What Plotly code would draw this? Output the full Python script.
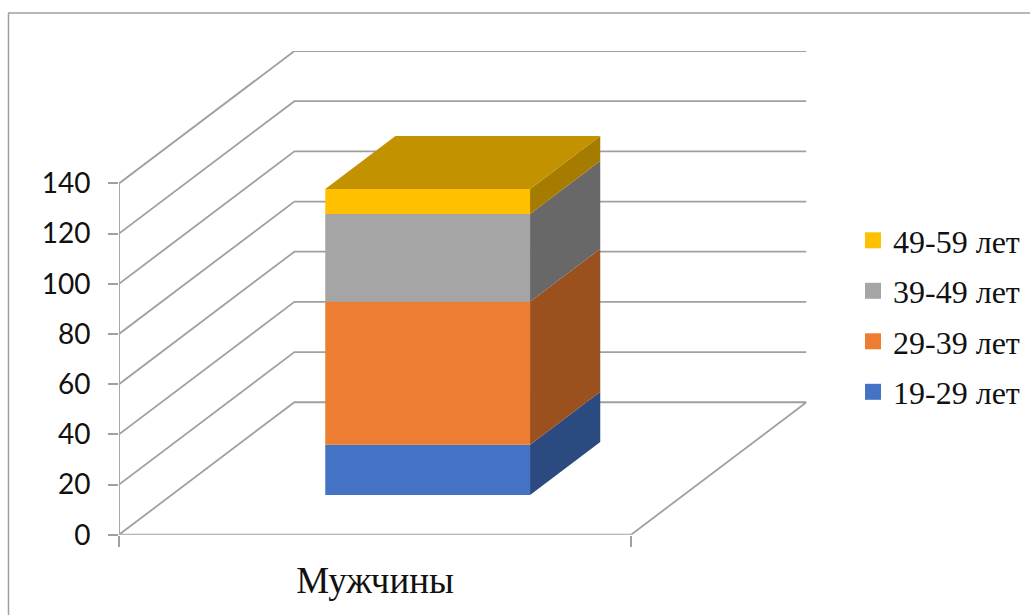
import plotly.graph_objects as go

# Chart data
category = "Мужчины"
series_names = ["19-29 лет", "29-39 лет", "39-49 лет", "49-59 лет"]
series_values = [20, 57, 35, 10]
y_ticks = [0, 20, 40, 60, 80, 100, 120, 140]

# Series colours: front face, shaded side face
front_colors = ["#4472C4", "#ED7D31", "#A5A5A5", "#FFC000"]
side_colors = ["#2B4A7F", "#9A511E", "#686868", "#A67C00"]
top_color = "#C39200"

# Oblique projection of the depth direction, in axis units
DEPTH_X = 0.3425
DEPTH_Y = 52.8
BAR_WIDTH = 0.4
BAR_NEAR = 0.3   # bar front as a fraction of the floor depth
BAR_FAR = 0.7    # bar back as a fraction of the floor depth

W, H = 1030, 615
GRID = "#A0A0A0"
GRID_W = 1.8

fig = go.Figure()

# Floor and wall lines sit on the primary axes, underneath the column
fig.add_trace(go.Scatter(
    x=[0, 0], y=[0, y_ticks[-1]], mode="lines",
    line=dict(color=GRID, width=GRID_W), showlegend=False, hoverinfo="skip", cliponaxis=False,
))
for v in y_ticks:
    xs = [0, DEPTH_X, 1 + DEPTH_X]
    ys = [v, v + DEPTH_Y, v + DEPTH_Y]
    if v == 0:
        xs = [1, 0] + xs + [1]
        ys = [0, 0] + ys + [0]
    fig.add_trace(go.Scatter(
        x=xs, y=ys, mode="lines", line=dict(color=GRID, width=GRID_W),
        showlegend=False, hoverinfo="skip", cliponaxis=False,
    ))

# Stacked column on the overlaying axes
near_x = BAR_NEAR * DEPTH_X
near_y = BAR_NEAR * DEPTH_Y
depth_x = (BAR_FAR - BAR_NEAR) * DEPTH_X
depth_y = (BAR_FAR - BAR_NEAR) * DEPTH_Y
center = 0.5 + near_x
right = center + BAR_WIDTH / 2
left = center - BAR_WIDTH / 2

base = near_y
for name, value, front, side in zip(series_names, series_values, front_colors, side_colors):
    fig.add_trace(go.Bar(
        x=[center], y=[value], base=[base], width=[BAR_WIDTH], name=name,
        marker=dict(color=front, line=dict(width=0)), showlegend=False,
        xaxis="x2", yaxis="y2",
    ))
    fig.add_trace(go.Scatter(
        x=[right, right + depth_x, right + depth_x, right, right],
        y=[base, base + depth_y, base + value + depth_y, base + value, base],
        mode="lines", fill="toself", fillcolor=side, line=dict(width=0),
        showlegend=False, hoverinfo="skip", xaxis="x2", yaxis="y2",
    ))
    base += value

fig.add_trace(go.Scatter(
    x=[left, right, right + depth_x, left + depth_x, left],
    y=[base, base, base + depth_y, base + depth_y, base],
    mode="lines", fill="toself", fillcolor=top_color, line=dict(width=0),
    showlegend=False, hoverinfo="skip", xaxis="x2", yaxis="y2",
))

# Legend entries with square swatches, oldest group listed first
for name, front in reversed(list(zip(series_names, front_colors))):
    fig.add_trace(go.Scatter(
        x=[None], y=[None], mode="markers", name=name, legendgroup=name,
        marker=dict(symbol="square", size=16, color=front, line=dict(width=0)),
        xaxis="x2", yaxis="y2",
    ))

x_range = [0, 1 + DEPTH_X]
y_range = [0, y_ticks[-1] + DEPTH_Y]
x_domain = [119 / W, 806.5 / W]
y_domain = [1 - 534.7 / H, 1 - 51 / H]


def px(x):
    return x / W


def py(y):
    return 1 - y / H


fig.update_layout(
    width=W, height=H,
    margin=dict(l=0, r=0, t=0, b=0),
    autosize=False,
    paper_bgcolor="white", plot_bgcolor="rgba(0,0,0,0)",
    barmode="overlay",
    xaxis=dict(
        domain=x_domain, range=x_range, showgrid=False, zeroline=False, showline=False,
        automargin=False,
        tickmode="array", tickvals=[0.5], ticktext=[category], ticks="",
        ticklabelstandoff=20,
        tickfont=dict(family="Liberation Serif", size=37, color="#111111"),
        minor=dict(tickmode="array", tickvals=[0, 1], ticks="outside", ticklen=11,
                   tickwidth=GRID_W, tickcolor=GRID, showgrid=False),
    ),
    yaxis=dict(
        domain=y_domain, range=y_range, showgrid=False, zeroline=False, showline=False,
        automargin=False,
        tickmode="array", tickvals=y_ticks, ticks="outside", ticklen=10,
        tickwidth=GRID_W, tickcolor=GRID, ticklabelstandoff=12,
        tickfont=dict(family="Lato", size=28, color="#111111"),
    ),
    xaxis2=dict(domain=x_domain, range=x_range, overlaying="x", visible=False, automargin=False),
    yaxis2=dict(domain=y_domain, range=y_range, overlaying="y", visible=False, automargin=False),
    legend=dict(
        x=px(853), y=py(213), xanchor="left", yanchor="top",
        traceorder="grouped", tracegroupgap=5.9,
        bgcolor="rgba(0,0,0,0)", borderwidth=0,
        font=dict(family="Liberation Serif", size=32, color="#111111"),
    ),
    shapes=[
        # Chart frame: left and top edges only
        dict(type="line", xref="paper", yref="paper", x0=px(8.5), x1=px(8.5), y0=py(615), y1=py(13),
             line=dict(color="#A0A0A0", width=1.5)),
        dict(type="line", xref="paper", yref="paper", x0=px(8), x1=px(1030), y0=py(13), y1=py(13),
             line=dict(color="#A0A0A0", width=1.5)),
    ],
)

fig.write_html("out.html", config={"displayModeBar": False})
